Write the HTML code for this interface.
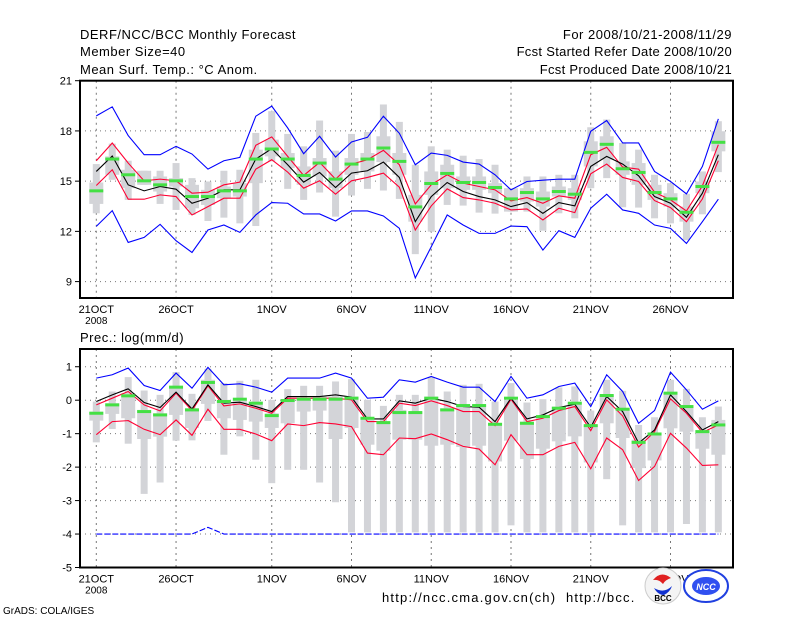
<!DOCTYPE html>
<html><head><meta charset="utf-8"><style>
body{margin:0;background:#fff;}
svg{display:block;font-family:"Liberation Sans",sans-serif;}
</style></head><body>
<svg id="c" width="800" height="618" viewBox="0 0 800 618" xmlns="http://www.w3.org/2000/svg">
<rect width="800" height="618" fill="#fff"/>
<g font-size="13" fill="#000">
<text x="80" y="39" letter-spacing="0.5">DERF/NCC/BCC Monthly Forecast</text>
<text x="80" y="56" letter-spacing="0.5">Member Size=40</text>
<text x="80" y="74" letter-spacing="0.5">Mean Surf. Temp.: °C Anom.</text>
<text x="732" y="39" text-anchor="end" letter-spacing="0.5">For 2008/10/21-2008/11/29</text>
<text x="732" y="56" text-anchor="end" letter-spacing="0.3">Fcst Started Refer Date 2008/10/20</text>
<text x="732" y="74" text-anchor="end" letter-spacing="0.3">Fcst Produced Date 2008/10/21</text>
<text x="80" y="342" letter-spacing="0.5">Prec.: log(mm/d)</text>
<text x="382" y="602" letter-spacing="1.2">http://ncc.cma.gov.cn(ch)</text>
<text x="566" y="602" letter-spacing="1.2">http://bcc.</text>
<text x="3" y="614" font-size="10">GrADS: COLA/IGES</text>
</g>
<g id="top"></g><g id="bot"></g>
<g>
<circle cx="663" cy="586" r="18" fill="#f4f4f4" stroke="#ccc"/>
<path d="M653 580 q8 -10 18 -2 q-6 2 -8 6 q-4 -5 -10 -4z" fill="#e02020"/>
<path d="M654 588 q10 6 18 -2 q-2 6 -8 9 q-6 0 -10 -7z" fill="#1030d0"/>
<text x="663" y="601" font-size="8" text-anchor="middle" font-weight="bold">BCC</text>
</g>
<g>
<ellipse cx="706" cy="586" rx="22" ry="16" fill="#fff" stroke="#2040e0" stroke-width="2"/>
<ellipse cx="706" cy="586" rx="14" ry="9" fill="#3050f0"/>
<text x="706" y="590" font-size="9" text-anchor="middle" fill="#fff" font-style="italic" font-weight="bold">NCC</text>
</g>
</svg>
<script>
// ---- data: top panel (temperature anomaly) ----
const tBlueMax=[18.9,19.44,17.72,16.58,16.58,17.08,16.62,15.72,16.22,16.42,18.88,19.48,18.18,16.64,17.68,16.44,17.34,17.62,18.88,17.86,15.98,16.68,16.54,16.14,16.02,15.38,14.48,14.98,15.06,15.12,15.12,17.98,18.62,17.28,17.28,15.58,14.98,14.24,15.88,18.72];
const tBlueMin=[12.3,13.24,11.34,11.64,12.42,11.44,10.74,12.08,12.38,11.94,12.98,13.72,13.68,13.04,13.04,12.62,13.22,13.22,12.92,12.18,9.22,11.08,12.98,12.38,11.88,11.88,12.32,12.28,10.88,12.04,11.64,13.38,14.22,13.28,13.08,12.38,12.18,11.28,12.58,13.92];
const tMean=[15.58,16.5,14.78,14.42,14.68,14.52,13.68,13.98,14.48,14.48,16.32,16.94,15.98,14.94,15.52,14.62,15.48,15.62,16.14,15.22,12.58,14.08,14.92,14.38,14.08,13.88,13.48,13.72,13.08,13.72,13.52,15.88,16.48,16.02,15.32,14.08,13.68,12.84,14.28,16.58];
const tRedUp=[16.22,17.28,16.08,15.02,15.12,15.02,14.28,14.34,14.78,14.94,17.14,17.64,16.48,15.34,16.12,15.12,16.02,16.28,16.84,15.98,13.64,14.78,15.38,14.88,14.68,14.48,13.82,14.02,13.68,14.12,13.98,16.58,17.02,15.84,15.72,14.34,13.88,13.22,14.72,17.18];
const tRedLo=[14.74,15.68,13.92,13.92,14.18,14.08,12.98,13.48,13.98,13.98,15.72,16.28,15.54,14.58,15.02,14.22,15.02,15.22,15.48,14.64,12.08,13.52,14.54,14.02,13.88,13.68,13.28,13.34,12.68,13.38,13.12,15.44,16.02,15.22,14.98,13.84,13.42,12.58,13.94,16.22];
const tGreen=[14.42,16.32,15.38,15.02,14.78,15.02,14.08,14.08,14.42,14.42,16.32,16.92,16.32,15.34,16.08,15.12,16.02,16.32,16.98,16.18,13.46,14.86,15.46,14.92,14.92,14.62,13.94,14.32,13.94,14.38,14.22,16.72,17.2,15.74,15.52,14.32,13.94,13.14,14.68,17.32];
const tWhiskHi=[16.02,17.24,16.22,15.62,15.62,16.08,15.18,14.98,15.62,15.68,17.88,19.18,17.82,17.08,18.62,16.82,17.82,17.94,19.58,18.54,15.98,17.08,16.88,16.52,16.32,15.98,14.58,15.28,15.28,15.38,15.38,18.22,18.68,17.28,16.88,15.38,14.88,14.24,15.58,18.58];
const tWhiskLo=[13.08,15.08,13.88,14.78,13.64,13.28,12.98,12.62,12.82,12.48,12.32,16.18,14.54,13.88,14.32,12.88,14.14,14.54,14.44,13.94,10.64,11.98,13.58,13.54,13.12,13.06,13.18,13.18,12.04,13.08,12.78,14.58,15.18,13.44,13.42,12.78,12.48,11.48,13.02,15.54];
const tBoxHi=[14.92,16.48,15.68,15.62,15.28,15.18,14.78,14.48,14.68,14.88,16.88,17.48,16.68,15.88,16.38,15.58,16.38,16.68,17.68,16.68,14.18,15.58,15.98,15.28,15.28,14.88,14.58,14.58,14.38,14.68,14.58,17.38,17.68,16.18,16.08,14.78,14.28,13.48,14.98,17.98];
const tBoxLo=[13.64,15.38,14.58,14.78,14.38,14.68,13.38,13.58,13.98,14.08,14.88,16.48,15.78,14.78,15.28,14.58,15.38,15.58,16.14,15.38,12.58,14.18,14.58,14.48,14.48,14.28,13.18,13.78,13.48,14.08,13.88,15.88,16.28,15.38,14.78,13.88,13.48,12.58,14.28,16.78];
const tTicks=[9,12,15,18,21];
// ---- data: bottom panel (precip log) ----
const pBlueMax=[0.66,0.76,0.96,0.44,0.29,0.81,0.36,0.98,0.46,0.49,0.39,0.24,0.66,0.66,0.66,0.81,0.66,0.06,0.09,0.61,0.54,0.71,0.54,0.39,0.39,-0.04,0.71,0.06,0.16,0.41,0.51,-0.19,0.76,0.26,-0.69,-0.31,0.84,0.31,-0.27,-0.02];
const pBlueMin=[-4,-4,-4,-4,-4,-4,-4,-3.8,-4,-4,-4,-4,-4,-4,-4,-4,-4,-4,-4,-4,-4,-4,-4,-4,-4,-4,-4,-4,-4,-4,-4,-4,-4,-4,-4,-4,-4,-4,-4,-4];
const pMean=[-0.04,0.16,0.34,-0.07,-0.22,0.24,-0.26,0.46,-0.09,-0.06,-0.19,-0.34,0.11,0.11,0.11,0.16,0.09,-0.56,-0.56,-0.02,-0.09,0.06,-0.04,-0.19,-0.21,-0.64,0.06,-0.56,-0.44,-0.22,-0.12,-0.81,0.11,-0.34,-1.28,-0.89,0.16,-0.34,-0.89,-0.64];
const pRedUp=[-0.14,0.06,0.26,-0.14,-0.32,0.21,-0.31,0.43,-0.17,-0.11,-0.24,-0.39,0.06,0.06,0.06,0.06,0.01,-0.64,-0.64,-0.09,-0.16,-0.02,-0.16,-0.34,-0.34,-0.76,0.03,-0.64,-0.54,-0.31,-0.19,-0.91,0.01,-0.47,-1.4,-0.94,0.04,-0.39,-0.96,-0.74];
const pRedLo=[-1.03,-0.64,-0.61,-0.87,-1.03,-0.59,-1.05,-0.27,-0.87,-0.87,-1.01,-1.21,-0.71,-0.76,-0.67,-0.71,-0.79,-1.58,-1.63,-1.13,-1.15,-1.01,-1.18,-1.38,-1.46,-1.93,-1.03,-1.63,-1.63,-1.38,-1.26,-2.05,-1.13,-1.48,-2.4,-1.98,-0.99,-1.43,-1.95,-1.93];
const pGreen=[-0.39,-0.14,0.13,-0.34,-0.44,0.39,-0.29,0.53,-0.04,0.03,-0.09,-0.46,-0.01,0.03,0.03,0.03,0.06,-0.54,-0.67,-0.37,-0.37,0.06,-0.29,-0.16,-0.16,-0.72,0.06,-0.69,-0.49,-0.24,-0.09,-0.76,0.14,-0.27,-1.26,-1.01,0.21,-0.19,-0.94,-0.74];
const pWhiskHi=[-0.04,0.26,0.69,0.29,0.16,0.84,0.19,0.94,0.51,0.58,0.61,0.01,0.33,0.43,0.43,0.56,0.63,0.01,-0.17,0.16,0.16,0.69,0.26,0.46,0.49,-0.04,0.51,-0.07,0.03,0.38,0.41,-0.31,0.61,0.28,-0.74,-0.51,0.61,0.34,-0.51,-0.19];
const pWhiskLo=[-1.26,-0.86,-1.3,-2.8,-2.46,-1.21,-1.2,-0.62,-1.63,-1.08,-1.78,-2.48,-2.08,-2.08,-2.46,-3.05,-3.95,-3.95,-3.95,-3.95,-3.95,-3.95,-3.95,-3.95,-3.95,-3.95,-3.74,-3.95,-3.95,-3.95,-3.95,-3.95,-2.36,-3.74,-3.95,-3.95,-3.95,-3.7,-3.95,-3.95];
const pBoxHi=[-0.34,-0.09,0.21,-0.29,-0.39,0.36,-0.24,0.61,0.01,0.01,-0.04,-0.39,0.01,0.06,0.11,0.11,0.11,-0.54,-0.64,-0.29,-0.34,0.11,-0.24,-0.14,-0.14,-0.69,0.01,-0.64,-0.49,-0.19,-0.09,-0.74,0.16,-0.24,-1.18,-0.99,0.21,-0.19,-0.89,-0.59];
const pBoxLo=[-0.61,-0.41,-0.54,-1.16,-1.09,-0.44,-0.83,-0.11,-0.54,-0.59,-0.64,-0.83,-0.69,-0.34,-0.31,-1.16,-0.83,-1.33,-1.51,-1.18,-1.18,-1.36,-1.33,-1.4,-1.36,-1.83,-1.21,-1.76,-1.45,-1.23,-1.08,-1.86,-0.69,-1.13,-2.03,-1.8,-0.84,-0.94,-1.45,-1.63];
const pTicks=[-5,-4,-3,-2,-1,0,1];
const dateLabels=["21OCT","26OCT","1NOV","6NOV","11NOV","16NOV","21NOV","26NOV"];
const dateDays=[0,5,11,16,21,26,31,36];

const NS="http://www.w3.org/2000/svg";
function xd(d){return 96.3+15.95*d;}
function mk(parent,tag,attrs){const e=document.createElementNS(NS,tag);for(const k in attrs)e.setAttribute(k,attrs[k]);parent.appendChild(e);return e;}

function panel(g,cfg){
  const {top,bot,vTop,vBot,ticks,L,R}=cfg;
  const y=v=>top+(vTop-v)*(bot-top)/(vTop-vBot);
  ticks.forEach(t=>{const yy=y(t);
    if(t>vBot&&t<vTop){const gl=mk(g,'line',{x1:L,x2:R,y1:yy,y2:yy,stroke:'#777','stroke-dasharray':'1,4'});
    }
    const tk=mk(g,'line',{x1:L-5,x2:L,y1:yy,y2:yy,stroke:'#000'});
    
    const tl=mk(g,'text',{x:L-8,y:yy+4,'font-size':11,'text-anchor':'end'});tl.textContent=t;
    
  });
  dateDays.forEach((d,i)=>{const xx=xd(d);
    const vl=mk(g,'line',{x1:xx,x2:xx,y1:top,y2:bot,stroke:'#777','stroke-dasharray':'2,4'});
    
    const tl=mk(g,'text',{x:xx,y:bot+15,'font-size':11,'text-anchor':'middle'});tl.textContent=dateLabels[i];
    
  });
  const yr=mk(g,'text',{x:xd(0),y:bot+26,'font-size':10,'text-anchor':'middle'});yr.textContent='2008';
  
  const d=cfg.d;
  for(let i=0;i<d.mean.length;i++){const xx=xd(i);
    const w=mk(g,'rect',{x:xx-3.5,y:y(d.wh[i]),width:7,height:Math.max(1,y(d.wl[i])-y(d.wh[i])),fill:'#d3d4d8'});
    
    const b=mk(g,'rect',{x:xx-7,y:y(d.bh[i]),width:14,height:Math.max(1,y(d.bl[i])-y(d.bh[i])),fill:'#d3d4d8'});
    
  }
  function line(arr,col,name,dash){const p=mk(g,'polyline',{points:arr.map((v,i)=>xd(i)+','+y(v)).join(' '),fill:'none',stroke:col,'stroke-width':1.1});
    if(dash)p.setAttribute('stroke-dasharray',dash);
    }
  line(d.bmax,'#0000ff','max-line');line(d.bmin,'#0000ff','min-line',d.dash);
  line(d.rup,'#ff0033','upper-red-line');line(d.rlo,'#ff0033','lower-red-line');
  line(d.mean,'#000','ensemble-mean-line');
  for(let i=0;i<d.green.length;i++){const gm=mk(g,'rect',{x:xd(i)-7,y:y(d.green[i])-1.5,width:14,height:3,fill:'#44e044'});
    }
  const fr=mk(g,'rect',{x:L,y:top,width:R-L,height:bot-top,fill:'none',stroke:'#000','stroke-width':2});
  
}
const gt=document.getElementById('top');

panel(gt,{top:80.7,bot:298,vTop:21,vBot:8.02,ticks:tTicks,L:80,R:733,
  d:{mean:tMean,bmax:tBlueMax,bmin:tBlueMin,rup:tRedUp,rlo:tRedLo,green:tGreen,wh:tWhiskHi,wl:tWhiskLo,bh:tBoxHi,bl:tBoxLo}});
const gb=document.getElementById('bot');

panel(gb,{top:349,bot:567.5,vTop:1.53,vBot:-5,ticks:pTicks,L:80,R:733,
  d:{mean:pMean,bmax:pBlueMax,bmin:pBlueMin,rup:pRedUp,rlo:pRedLo,green:pGreen,wh:pWhiskHi,wl:pWhiskLo,bh:pBoxHi,bl:pBoxLo,dash:'6,2'}});
</script>
</body></html>
